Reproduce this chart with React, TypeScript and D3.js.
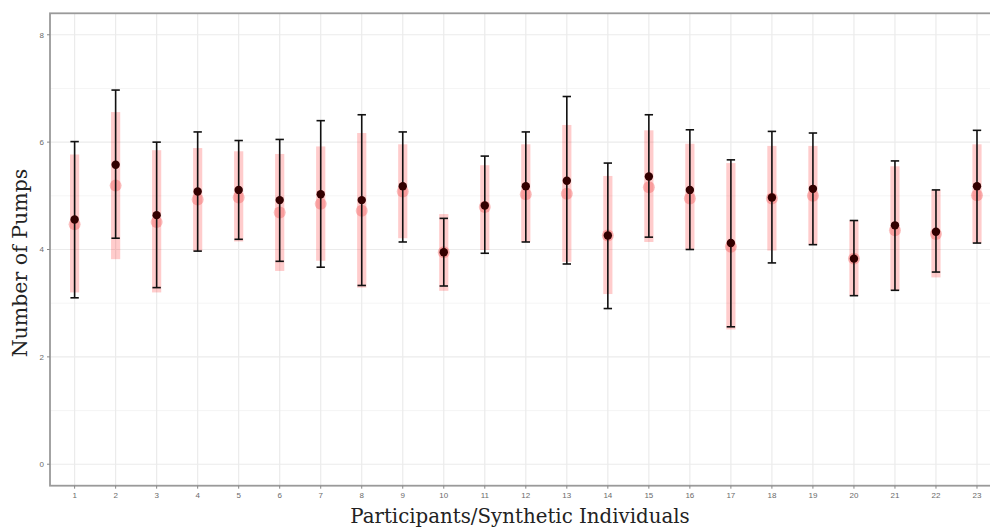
import React from "react";
import * as d3 from "d3";

const participants = d3.range(1, 24).map(String);
const obsMean = [4.56,5.58,4.64,5.08,5.11,4.92,5.03,4.92,5.18,3.95,4.82,5.18,5.28,4.26,5.36,5.11,4.12,4.97,5.13,3.83,4.45,4.33,5.18];
const obsLower = [3.10,4.21,3.29,3.97,4.19,3.78,3.67,3.33,4.14,3.32,3.93,4.14,3.73,2.90,4.23,4.00,2.56,3.75,4.09,3.14,3.24,3.58,4.12];
const obsUpper = [6.01,6.97,6.00,6.19,6.03,6.05,6.40,6.51,6.19,4.58,5.74,6.19,6.85,5.61,6.51,6.23,5.67,6.20,6.17,4.54,5.65,5.11,6.22];
const synthMean = [4.47,5.19,4.51,4.93,4.97,4.69,4.85,4.72,5.08,3.95,4.79,5.03,5.04,4.26,5.16,4.95,4.05,4.95,5.00,3.83,4.36,4.29,5.01];
const synthLower = [3.20,3.82,3.20,3.97,4.15,3.60,3.79,3.29,4.21,3.23,3.99,4.14,3.77,3.17,4.14,4.00,2.51,3.98,4.09,3.14,3.24,3.48,4.12];
const synthUpper = [5.77,6.56,5.85,5.89,5.83,5.78,5.92,6.17,5.96,4.66,5.57,5.96,6.32,5.37,6.22,5.97,5.61,5.93,5.93,4.54,5.55,5.11,5.96];
const yMajor = [0, 2, 4, 6, 8];
const yMinor = [1, 3, 5, 7];

export default function App() {
  const W = 990, H = 529;
  const left = 50, right = 1001.6, top = 13.3, bottom = 485.7;
  const x = d3.scaleLinear().domain([0.4, 23.6]).range([left, right]);
  const y = d3.scaleLinear().domain([-0.4, 8.4]).range([bottom, top]);
  const xi = (i: number) => x(i + 1);
  const tickFont = "'Liberation Sans', Arial, sans-serif";
  const titleFont = "'DejaVu Serif', 'Liberation Serif', serif";
  return (
    <svg width={W} height={H} style={{ position: "absolute", left: 0, top: 0, background: "#fff" }}>
      <rect x={0} y={0} width={W} height={H} fill="#fff" />
      {yMinor.map((v) => (
        <line key={"mi" + v} x1={left} x2={right} y1={y(v)} y2={y(v)} stroke="#f2f2f2" strokeWidth={0.8} />
      ))}
      {yMajor.map((v) => (
        <line key={"ma" + v} x1={left} x2={right} y1={y(v)} y2={y(v)} stroke="#ebebeb" strokeWidth={1.2} />
      ))}
      {participants.map((p, i) => (
        <line key={"vx" + p} x1={xi(i)} x2={xi(i)} y1={top} y2={bottom} stroke="#ebebeb" strokeWidth={1.2} />
      ))}
      {participants.map((p, i) => (
        <rect key={"sr" + p} x={xi(i) - 4.6} width={9.2} y={y(synthUpper[i])} height={y(synthLower[i]) - y(synthUpper[i])} fill="rgba(255,0,0,0.2)" />
      ))}
      {participants.map((p, i) => (
        <circle key={"sp" + p} cx={xi(i)} cy={y(synthMean[i])} r={6} fill="rgba(240,60,60,0.33)" />
      ))}
      {participants.map((p, i) => (
        <g key={"eb" + p} stroke="#111" strokeWidth={1.6}>
          <line x1={xi(i)} x2={xi(i)} y1={y(obsUpper[i])} y2={y(obsLower[i])} />
          <line x1={xi(i) - 4.2} x2={xi(i) + 4.2} y1={y(obsUpper[i])} y2={y(obsUpper[i])} />
          <line x1={xi(i) - 4.2} x2={xi(i) + 4.2} y1={y(obsLower[i])} y2={y(obsLower[i])} />
        </g>
      ))}
      {participants.map((p, i) => (
        <circle key={"op" + p} cx={xi(i)} cy={y(obsMean[i])} r={4.2} fill="#330000" />
      ))}
      <rect x={left} y={top} width={right - left} height={bottom - top} fill="none" stroke="#9a9a9a" strokeWidth={1.8} />
      {yMajor.map((v) => (
        <g key={"yt" + v}>
          <line x1={left - 3} x2={left} y1={y(v)} y2={y(v)} stroke="#888" strokeWidth={1} />
          <text x={left - 6} y={y(v)} dy="0.35em" textAnchor="end" fontSize={8} fill="#6a6a6a" fontFamily={tickFont}>{v}</text>
        </g>
      ))}
      {participants.map((p, i) => (
        <g key={"xt" + p}>
          <line x1={xi(i)} x2={xi(i)} y1={bottom} y2={bottom + 3} stroke="#888" strokeWidth={1} />
          <text x={xi(i)} y={bottom + 9} dy="0.35em" textAnchor="middle" fontSize={8} fill="#6a6a6a" fontFamily={tickFont}>{p}</text>
        </g>
      ))}
      <text x={520} y={523} textAnchor="middle" fontSize={19.8} fill="#222" fontFamily={titleFont}>Participants/Synthetic Individuals</text>
      <text transform={`translate(27,${263}) rotate(-90)`} textAnchor="middle" fontSize={20.5} fill="#222" fontFamily={titleFont}>Number of Pumps</text>
    </svg>
  );
}
